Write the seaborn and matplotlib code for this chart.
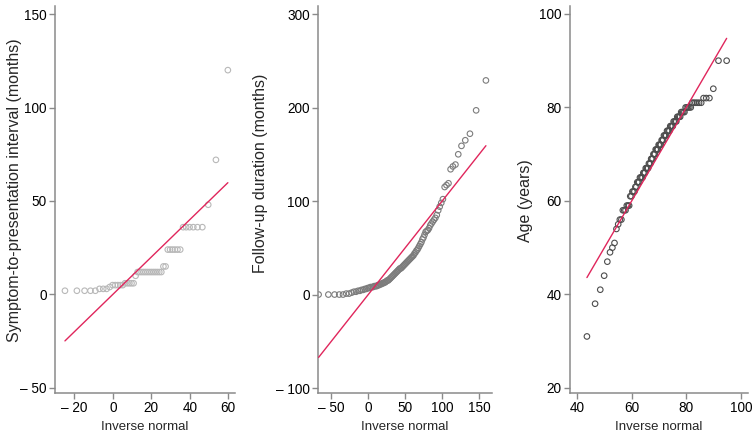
import numpy as np
import pandas as pd
import matplotlib
matplotlib.use("Agg")
import matplotlib.pyplot as plt
import seaborn as sns
from statistics import NormalDist
from matplotlib.ticker import FuncFormatter

# sorted values
symptom_months = [2, 2, 2, 2, 2, 3, 3, 3, 4, 5, 5, 5, 5, 5, 6, 6, 6, 6, 6, 10,
                  12, 12, 12, 12, 12, 12, 12, 12, 12, 12, 12, 12, 12, 15, 15,
                  24, 24, 24, 24, 24, 24, 36, 36, 36, 36, 36, 36, 48, 72, 120]

followup_months = [0, 0, 0, 0, 0, 1, 1, 2, 3, 3, 4, 4, 5, 5, 6, 6, 7, 7, 8, 8,
                   8, 9, 9, 9, 10, 10, 11, 11, 12, 12, 13, 13, 14, 15, 15, 16, 17, 18, 19, 20,
                   21, 22, 23, 24, 25, 26, 27, 28, 28, 29, 30, 31, 32, 33, 34, 35, 36, 37, 38, 39,
                   40, 41, 42, 44, 45, 47, 48, 50, 52, 54, 56, 59, 61, 64, 67, 68, 69, 71, 74, 76,
                   78, 80, 82, 85, 90, 94, 98, 102, 115, 117, 119, 134, 137, 139, 150, 159, 165, 172, 197, 229]

age_years = [31, 38, 41, 44, 47, 49, 50, 51, 54, 55, 56, 56, 58, 58, 58, 59, 59, 59, 61, 61,
             62, 62, 62, 63, 63, 64, 64, 64, 65, 65, 65, 65, 66, 66, 66, 67, 67, 67, 67, 68,
             68, 68, 69, 69, 69, 70, 70, 70, 71, 71, 71, 71, 72, 72, 72, 72, 73, 73, 73, 74,
             74, 74, 74, 75, 75, 75, 75, 76, 76, 76, 76, 77, 77, 77, 77, 78, 78, 78, 78, 79,
             79, 79, 79, 80, 80, 80, 80, 80, 81, 81, 81, 81, 81, 81, 82, 82, 82, 84, 90, 90]

y_labels = ["Symptom-to-presentation interval (months)", "Follow-up duration (months)", "Age (years)"]
marker_colors = ["#b8b8b8", "#7c7c7c", "#4d4d4d"]
x_ticks = [[-20, 0, 20, 40, 60], [-50, 0, 50, 100, 150], [40, 60, 80, 100]]
y_ticks = [[-50, 0, 50, 100, 150], [-100, 0, 100, 200, 300], [20, 40, 60, 80, 100]]
x_lims = [(-30, 63.5), (-68, 167), (37.4, 102.6)]
y_lims = [(-52.7, 154.3), (-105.3, 308.6), (18.9, 101.7)]


def qnorm_frame(values):
    # Stata-style qnorm: sorted data against invnormal(i/(n+1)) scaled by mean and sd
    y = np.sort(np.asarray(values, dtype=float))
    n = len(y)
    nd = NormalDist(y.mean(), y.std(ddof=1))
    x = np.array([nd.inv_cdf(i / (n + 1)) for i in range(1, n + 1)])
    return pd.DataFrame({"inv": x, "val": y})


def tick_fmt(v, pos):
    return "\u2013 %d" % abs(v) if v < 0 else "%d" % v


sns.set_theme(style="white")
plt.rcParams["font.family"] = ["Liberation Sans", "DejaVu Sans"]

fig = plt.figure(figsize=(7.54, 4.36), dpi=100)
lefts = [55 / 754, 318 / 754, 570 / 754]
widths = [180 / 754, 173.7 / 754, 178 / 754]
ylabel_pos = [(-0.183, 0.525), (-0.288, 0.568), (-0.208, 0.496)]

for k, data in enumerate([symptom_months, followup_months, age_years]):
    df = qnorm_frame(data)
    ax = fig.add_axes([lefts[k], 43 / 436, widths[k], 387 / 436])
    sns.scatterplot(data=df, x="inv", y="val", ax=ax, marker="o",
                    facecolor="none", edgecolor=marker_colors[k], linewidth=0.8, s=16)
    lo, hi = df["inv"].min(), df["inv"].max()
    ax.plot([lo, hi], [lo, hi], color="#e0265c", lw=1.0, zorder=5)

    ax.set_xlim(*x_lims[k])
    ax.set_ylim(*y_lims[k])
    ax.set_xticks(x_ticks[k])
    ax.set_yticks(y_ticks[k])
    ax.xaxis.set_major_formatter(FuncFormatter(tick_fmt))
    ax.yaxis.set_major_formatter(FuncFormatter(tick_fmt))
    ax.set_xlabel("Inverse normal", fontsize=9.5, labelpad=4)
    ax.set_ylabel(y_labels[k], fontsize=11.5)
    ax.yaxis.set_label_coords(*ylabel_pos[k])

    for side in ["top", "right"]:
        ax.spines[side].set_visible(False)
    for side in ["left", "bottom"]:
        ax.spines[side].set_color("#8a8a8a")
        ax.spines[side].set_linewidth(1.1)
    ax.tick_params(axis="both", which="major", direction="out", length=4, width=1,
                   color="#8a8a8a", labelsize=9.8, labelcolor="black", pad=2,
                   left=True, bottom=True)
    ax.grid(False)

fig.savefig("out.png", dpi=100, facecolor="white")
